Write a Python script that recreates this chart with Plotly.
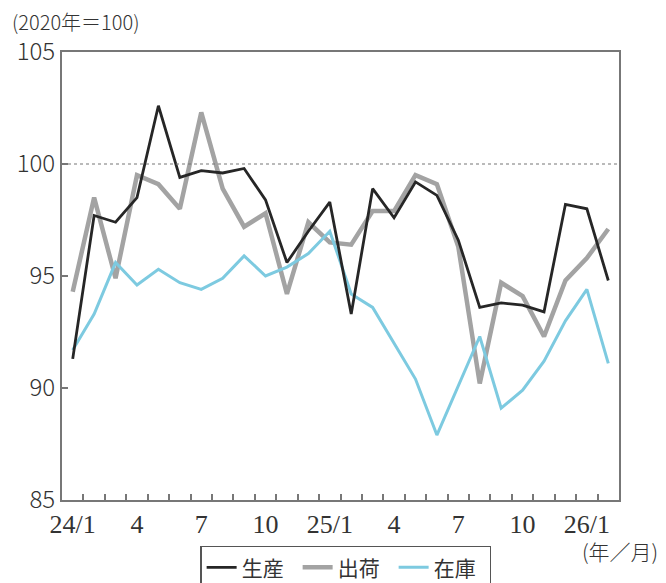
import plotly.graph_objects as go

months = ["24/1", "24/2", "24/3", "24/4", "24/5", "24/6", "24/7", "24/8", "24/9", "24/10", "24/11", "24/12",
          "25/1", "25/2", "25/3", "25/4", "25/5", "25/6", "25/7", "25/8", "25/9", "25/10", "25/11", "25/12",
          "26/1", "26/2"]
production = [91.3, 97.7, 97.4, 98.5, 102.6, 99.4, 99.7, 99.6, 99.8, 98.4, 95.6, 97.0,
              98.3, 93.3, 98.9, 97.6, 99.2, 98.6, 96.6, 93.6, 93.8, 93.7, 93.4, 98.2,
              98.0, 94.8]
shipments = [94.3, 98.5, 94.9, 99.5, 99.1, 98.0, 102.3, 98.9, 97.2, 97.8, 94.2, 97.4,
             96.5, 96.4, 97.9, 97.9, 99.5, 99.1, 96.3, 90.2, 94.7, 94.1, 92.3, 94.8,
             95.8, 97.1]
inventory = [91.7, 93.3, 95.6, 94.6, 95.3, 94.7, 94.4, 94.9, 95.9, 95.0, 95.4, 96.0,
             97.0, 94.2, 93.6, 92.0, 90.4, 87.9, 90.1, 92.3, 89.1, 89.9, 91.2, 93.0,
             94.4, 91.1]
tick_labels = ["24/1", "4", "7", "10", "25/1", "4", "7", "10", "26/1"]
y_ticks = [85, 90, 95, 100, 105]

x = list(range(len(months)))
tick_pos = [0, 3, 6, 9, 12, 15, 18, 21, 24]

fig = go.Figure()
fig.add_trace(go.Scatter(x=x, y=shipments, mode="lines", name="出荷",
                         line=dict(color="#a3a3a3", width=4.5), legendrank=2))
fig.add_trace(go.Scatter(x=x, y=inventory, mode="lines", name="在庫",
                         line=dict(color="#7dcae0", width=3), legendrank=3))
fig.add_trace(go.Scatter(x=x, y=production, mode="lines", name="生産",
                         line=dict(color="#262626", width=2.8), legendrank=1))

fig.add_hline(y=100, line=dict(color="#777777", width=1.2, dash="3px,3px"))

jp = "Noto Sans CJK JP"
fig.update_layout(
    width=666, height=583,
    margin=dict(l=54, r=55, t=44, b=91, autoexpand=False),
    paper_bgcolor="white", plot_bgcolor="white",
    font=dict(family=jp, color="#333333"),
    showlegend=True,
    legend=dict(orientation="h", x=0.248, xanchor="left", y=-0.102, yanchor="top",
                bordercolor="#555555", borderwidth=1.5,
                font=dict(size=21, family=jp, color="#333333"),
                itemwidth=30, traceorder="normal", tracegroupgap=0,
                entrywidth=51, entrywidthmode="pixels"),
    xaxis=dict(range=[-0.5, 25.5], tickmode="array", tickvals=tick_pos, ticktext=tick_labels,
               ticks="", showgrid=False, zeroline=False,
               showline=True, linecolor="#777777", linewidth=2, mirror=True,
               tickfont=dict(size=26, family="Liberation Sans Narrow", color="#333333"),
               minor=dict(tickmode="array", tickvals=[i + 0.5 for i in range(25)],
                          ticks="inside", ticklen=6, tickcolor="#777777", tickwidth=1.5,
                          showgrid=False)),
    yaxis=dict(range=[85, 105], tickmode="array", tickvals=y_ticks,
               ticks="inside", ticklen=6, tickcolor="#777777", tickwidth=1.5,
               showgrid=False, zeroline=False,
               showline=True, linecolor="#777777", linewidth=2, mirror=True,
               tickfont=dict(size=24, family=jp, color="#333333", weight=300)),
)

fig.add_annotation(text="(2020年＝100)", xref="paper", yref="paper", x=-0.093, y=1.069,
                   xanchor="left", yanchor="middle", showarrow=False,
                   font=dict(size=20, family=jp, color="#333333", weight=300))
fig.add_annotation(text="(年／月)", xref="paper", yref="paper", x=1.0736, y=-0.1138,
                   xanchor="right", yanchor="middle", showarrow=False,
                   font=dict(size=21, family=jp, color="#333333", weight=300))

fig.write_html("out.html")
